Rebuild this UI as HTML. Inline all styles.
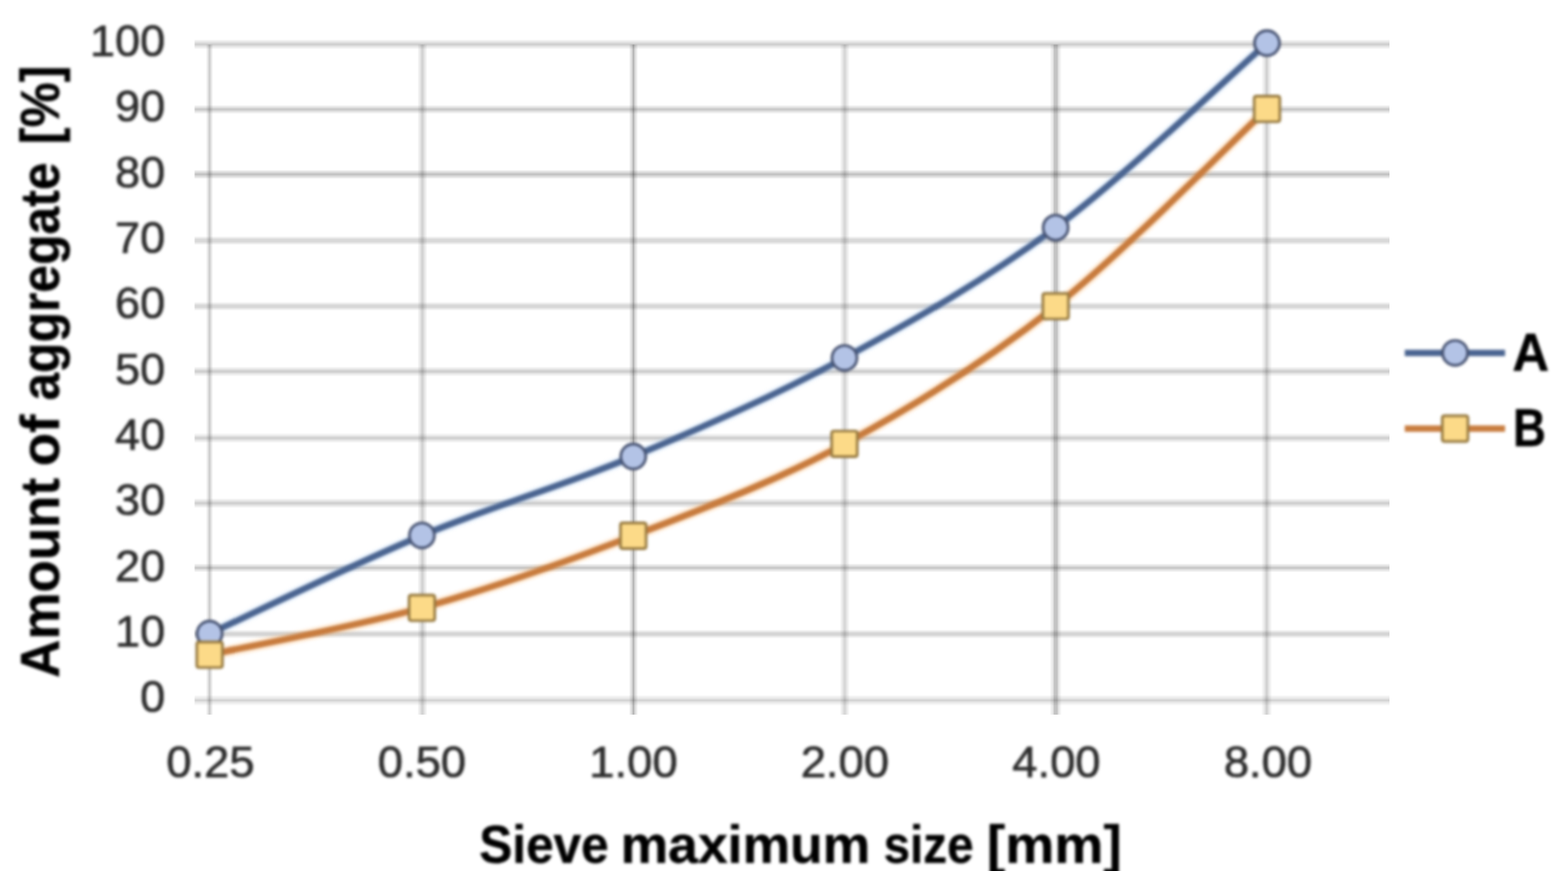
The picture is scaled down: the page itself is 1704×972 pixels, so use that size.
<!DOCTYPE html>
<html lang="en">
<head>
<meta charset="utf-8">
<title>Sieve curve chart</title>
<style>
html,body{margin:0;padding:0;background:#fff;}
body{width:1704px;height:972px;overflow:hidden;}
svg{display:block;}
.bl{filter:blur(1.45px);}
.bg{filter:blur(0.6px);}
.bm{filter:blur(1.5px);}
text{font-family:"Liberation Sans",sans-serif;}
.tick{font-size:49px;fill:#2c2c2c;stroke:#2c2c2c;stroke-width:0.7px;}
.ttl{font-size:56.5px;font-weight:bold;fill:#000000;stroke:#000000;stroke-width:0.4px;}
.ty{font-size:59.5px;}
</style>
</head>
<body>
<svg width="1704" height="972" viewBox="0 0 1704 972">
<rect x="0" y="0" width="1704" height="972" fill="#ffffff"/>
<defs><clipPath id="crop"><rect x="0" y="0" width="1704" height="947"/></clipPath></defs>
<g clip-path="url(#crop)">
<defs><linearGradient id="g0" x1="0" y1="0" x2="0" y2="1"><stop offset="0.0000" stop-color="#000" stop-opacity="0.0000"/><stop offset="0.3083" stop-color="#000" stop-opacity="0.0875"/><stop offset="0.5000" stop-color="#000" stop-opacity="0.1751"/><stop offset="0.6917" stop-color="#000" stop-opacity="0.0875"/><stop offset="1.0000" stop-color="#000" stop-opacity="0.0000"/></linearGradient>
<linearGradient id="g1" x1="0" y1="0" x2="0" y2="1"><stop offset="0.0000" stop-color="#000" stop-opacity="0.0000"/><stop offset="0.2200" stop-color="#000" stop-opacity="0.0821"/><stop offset="0.4000" stop-color="#000" stop-opacity="0.1641"/><stop offset="0.6000" stop-color="#000" stop-opacity="0.1641"/><stop offset="0.7800" stop-color="#000" stop-opacity="0.0821"/><stop offset="1.0000" stop-color="#000" stop-opacity="0.0000"/></linearGradient>
<linearGradient id="g2" x1="0" y1="0" x2="0" y2="1"><stop offset="0.0000" stop-color="#000" stop-opacity="0.0000"/><stop offset="0.2750" stop-color="#000" stop-opacity="0.1149"/><stop offset="0.5000" stop-color="#000" stop-opacity="0.2298"/><stop offset="0.7250" stop-color="#000" stop-opacity="0.1149"/><stop offset="1.0000" stop-color="#000" stop-opacity="0.0000"/></linearGradient>
<linearGradient id="g3" x1="0" y1="0" x2="0" y2="1"><stop offset="0.0000" stop-color="#000" stop-opacity="0.0000"/><stop offset="0.2727" stop-color="#000" stop-opacity="0.1003"/><stop offset="0.5000" stop-color="#000" stop-opacity="0.2006"/><stop offset="0.7273" stop-color="#000" stop-opacity="0.1003"/><stop offset="1.0000" stop-color="#000" stop-opacity="0.0000"/></linearGradient>
<linearGradient id="g4" x1="0" y1="0" x2="0" y2="1"><stop offset="0.0000" stop-color="#000" stop-opacity="0.0000"/><stop offset="0.2636" stop-color="#000" stop-opacity="0.0894"/><stop offset="0.4455" stop-color="#000" stop-opacity="0.1787"/><stop offset="0.5545" stop-color="#000" stop-opacity="0.1787"/><stop offset="0.7364" stop-color="#000" stop-opacity="0.0894"/><stop offset="1.0000" stop-color="#000" stop-opacity="0.0000"/></linearGradient>
<linearGradient id="g5" x1="0" y1="0" x2="0" y2="1"><stop offset="0.0000" stop-color="#000" stop-opacity="0.0000"/><stop offset="0.2636" stop-color="#000" stop-opacity="0.0930"/><stop offset="0.4455" stop-color="#000" stop-opacity="0.1860"/><stop offset="0.5545" stop-color="#000" stop-opacity="0.1860"/><stop offset="0.7364" stop-color="#000" stop-opacity="0.0930"/><stop offset="1.0000" stop-color="#000" stop-opacity="0.0000"/></linearGradient>
<linearGradient id="g6" x1="0" y1="0" x2="0" y2="1"><stop offset="0.0000" stop-color="#000" stop-opacity="0.0000"/><stop offset="0.2071" stop-color="#000" stop-opacity="0.0784"/><stop offset="0.3889" stop-color="#000" stop-opacity="0.1568"/><stop offset="0.6111" stop-color="#000" stop-opacity="0.1568"/><stop offset="0.7929" stop-color="#000" stop-opacity="0.0784"/><stop offset="1.0000" stop-color="#000" stop-opacity="0.0000"/></linearGradient>
<linearGradient id="g7" x1="0" y1="0" x2="0" y2="1"><stop offset="0.0000" stop-color="#000" stop-opacity="0.0000"/><stop offset="0.1919" stop-color="#000" stop-opacity="0.0748"/><stop offset="0.3737" stop-color="#000" stop-opacity="0.1495"/><stop offset="0.6263" stop-color="#000" stop-opacity="0.1495"/><stop offset="0.8081" stop-color="#000" stop-opacity="0.0748"/><stop offset="1.0000" stop-color="#000" stop-opacity="0.0000"/></linearGradient>
<linearGradient id="g8" x1="0" y1="0" x2="0" y2="1"><stop offset="0.0000" stop-color="#000" stop-opacity="0.0000"/><stop offset="0.2500" stop-color="#000" stop-opacity="0.1222"/><stop offset="0.5000" stop-color="#000" stop-opacity="0.2444"/><stop offset="0.7500" stop-color="#000" stop-opacity="0.1222"/><stop offset="1.0000" stop-color="#000" stop-opacity="0.0000"/></linearGradient>
<linearGradient id="g9" x1="0" y1="0" x2="0" y2="1"><stop offset="0.0000" stop-color="#000" stop-opacity="0.0000"/><stop offset="0.2750" stop-color="#000" stop-opacity="0.1149"/><stop offset="0.5000" stop-color="#000" stop-opacity="0.2298"/><stop offset="0.7250" stop-color="#000" stop-opacity="0.1149"/><stop offset="1.0000" stop-color="#000" stop-opacity="0.0000"/></linearGradient>
<linearGradient id="g10" x1="0" y1="0" x2="0" y2="1"><stop offset="0.0000" stop-color="#000" stop-opacity="0.0000"/><stop offset="0.2727" stop-color="#000" stop-opacity="0.1003"/><stop offset="0.5000" stop-color="#000" stop-opacity="0.2006"/><stop offset="0.7273" stop-color="#000" stop-opacity="0.1003"/><stop offset="1.0000" stop-color="#000" stop-opacity="0.0000"/></linearGradient>
<linearGradient id="g11" x1="0" y1="0" x2="1" y2="0"><stop offset="0.0000" stop-color="#000" stop-opacity="0.0000"/><stop offset="0.2938" stop-color="#000" stop-opacity="0.1058"/><stop offset="0.5000" stop-color="#000" stop-opacity="0.2115"/><stop offset="0.7063" stop-color="#000" stop-opacity="0.1058"/><stop offset="1.0000" stop-color="#000" stop-opacity="0.0000"/></linearGradient>
<linearGradient id="g12" x1="0" y1="0" x2="1" y2="0"><stop offset="0.0000" stop-color="#000" stop-opacity="0.0000"/><stop offset="0.2545" stop-color="#000" stop-opacity="0.0857"/><stop offset="0.4455" stop-color="#000" stop-opacity="0.1714"/><stop offset="0.5545" stop-color="#000" stop-opacity="0.1714"/><stop offset="0.7455" stop-color="#000" stop-opacity="0.0857"/><stop offset="1.0000" stop-color="#000" stop-opacity="0.0000"/></linearGradient>
<linearGradient id="g13" x1="0" y1="0" x2="1" y2="0"><stop offset="0.0000" stop-color="#000" stop-opacity="0.0000"/><stop offset="0.3450" stop-color="#000" stop-opacity="0.1550"/><stop offset="0.5000" stop-color="#000" stop-opacity="0.3100"/><stop offset="0.6550" stop-color="#000" stop-opacity="0.1550"/><stop offset="1.0000" stop-color="#000" stop-opacity="0.0000"/></linearGradient>
<linearGradient id="g14" x1="0" y1="0" x2="1" y2="0"><stop offset="0.0000" stop-color="#000" stop-opacity="0.0000"/><stop offset="0.2727" stop-color="#000" stop-opacity="0.0857"/><stop offset="0.5000" stop-color="#000" stop-opacity="0.1714"/><stop offset="0.7273" stop-color="#000" stop-opacity="0.0857"/><stop offset="1.0000" stop-color="#000" stop-opacity="0.0000"/></linearGradient>
<linearGradient id="g15" x1="0" y1="0" x2="1" y2="0"><stop offset="0.0000" stop-color="#000" stop-opacity="0.0000"/><stop offset="0.2923" stop-color="#000" stop-opacity="0.1185"/><stop offset="0.3731" stop-color="#000" stop-opacity="0.2371"/><stop offset="0.6269" stop-color="#000" stop-opacity="0.2371"/><stop offset="0.7077" stop-color="#000" stop-opacity="0.1185"/><stop offset="1.0000" stop-color="#000" stop-opacity="0.0000"/></linearGradient>
<linearGradient id="g16" x1="0" y1="0" x2="1" y2="0"><stop offset="0.0000" stop-color="#000" stop-opacity="0.0000"/><stop offset="0.2826" stop-color="#000" stop-opacity="0.0894"/><stop offset="0.4652" stop-color="#000" stop-opacity="0.1787"/><stop offset="0.5348" stop-color="#000" stop-opacity="0.1787"/><stop offset="0.7174" stop-color="#000" stop-opacity="0.0894"/><stop offset="1.0000" stop-color="#000" stop-opacity="0.0000"/></linearGradient></defs>
<g class="bg">
<rect x="211.5" y="755.40" width="1298.5" height="12.00" fill="url(#g0)"/>
<rect x="211.5" y="684.30" width="1298.5" height="10.00" fill="url(#g1)"/>
<rect x="211.5" y="612.40" width="1298.5" height="10.00" fill="url(#g2)"/>
<rect x="211.5" y="541.60" width="1298.5" height="11.00" fill="url(#g3)"/>
<rect x="211.5" y="470.80" width="1298.5" height="11.00" fill="url(#g4)"/>
<rect x="211.5" y="398.30" width="1298.5" height="11.00" fill="url(#g5)"/>
<rect x="211.5" y="328.05" width="1298.5" height="9.90" fill="url(#g6)"/>
<rect x="211.5" y="256.60" width="1298.5" height="9.90" fill="url(#g7)"/>
<rect x="211.5" y="184.35" width="1298.5" height="10.40" fill="url(#g8)"/>
<rect x="211.5" y="113.95" width="1298.5" height="10.00" fill="url(#g9)"/>
<rect x="211.5" y="42.66" width="1298.5" height="11.00" fill="url(#g10)"/>
<rect x="223.75" y="48.5" width="8.00" height="728.5" fill="url(#g11)"/>
<rect x="453.50" y="48.5" width="11.00" height="728.5" fill="url(#g12)"/>
<rect x="683.35" y="48.5" width="10.00" height="728.5" fill="url(#g13)"/>
<rect x="912.50" y="48.5" width="11.00" height="728.5" fill="url(#g14)"/>
<rect x="1140.80" y="48.5" width="13.00" height="728.5" fill="url(#g15)"/>
<rect x="1370.80" y="48.5" width="11.50" height="728.5" fill="url(#g16)"/>
</g>
<g class="bm">
<path d="M227.80 688.90 C266.25 671.12 381.77 614.30 458.50 582.20 C535.23 550.10 611.67 528.47 688.20 496.30 C764.73 464.13 841.20 430.67 917.70 389.20 C994.20 347.73 1070.67 304.57 1147.20 247.50 C1223.73 190.43 1338.62 80.25 1376.90 46.80" fill="none" stroke="#9ec8f4" stroke-opacity="0.20" stroke-width="13" stroke-linecap="round" stroke-linejoin="round"/>
<path d="M227.80 711.90 C266.25 703.40 381.77 682.47 458.50 660.90 C535.23 639.33 611.67 612.22 688.20 582.50 C764.73 552.78 841.20 524.20 917.70 482.60 C994.20 441.00 1070.67 393.60 1147.20 332.90 C1223.73 272.20 1338.62 154.15 1376.90 118.40" fill="none" stroke="#ffb060" stroke-opacity="0.22" stroke-width="13.5" stroke-linecap="round" stroke-linejoin="round"/>
<path d="M227.80 688.90 C266.25 671.12 381.77 614.30 458.50 582.20 C535.23 550.10 611.67 528.47 688.20 496.30 C764.73 464.13 841.20 430.67 917.70 389.20 C994.20 347.73 1070.67 304.57 1147.20 247.50 C1223.73 190.43 1338.62 80.25 1376.90 46.80" fill="none" stroke="#4b6591" stroke-width="6.9" stroke-linecap="round" stroke-linejoin="round"/>
<circle cx="227.80" cy="688.90" r="13.6" fill="#b3c3e6" stroke="#455170" stroke-width="2.9"/>
<circle cx="458.50" cy="582.20" r="13.6" fill="#b3c3e6" stroke="#455170" stroke-width="2.9"/>
<circle cx="688.20" cy="496.30" r="13.6" fill="#b3c3e6" stroke="#455170" stroke-width="2.9"/>
<circle cx="917.70" cy="389.20" r="13.6" fill="#b3c3e6" stroke="#455170" stroke-width="2.9"/>
<circle cx="1147.20" cy="247.50" r="13.6" fill="#b3c3e6" stroke="#455170" stroke-width="2.9"/>
<circle cx="1376.90" cy="46.80" r="13.6" fill="#b3c3e6" stroke="#455170" stroke-width="2.9"/>
<path d="M227.80 711.90 C266.25 703.40 381.77 682.47 458.50 660.90 C535.23 639.33 611.67 612.22 688.20 582.50 C764.73 552.78 841.20 524.20 917.70 482.60 C994.20 441.00 1070.67 393.60 1147.20 332.90 C1223.73 272.20 1338.62 154.15 1376.90 118.40" fill="none" stroke="#c87c3e" stroke-width="7.2" stroke-linecap="round" stroke-linejoin="round"/>
<rect x="213.85" y="697.95" width="27.9" height="27.9" rx="2.5" ry="2.5" fill="#fcda88" stroke="#977a40" stroke-width="2.9"/>
<rect x="444.55" y="646.95" width="27.9" height="27.9" rx="2.5" ry="2.5" fill="#fcda88" stroke="#977a40" stroke-width="2.9"/>
<rect x="674.25" y="568.55" width="27.9" height="27.9" rx="2.5" ry="2.5" fill="#fcda88" stroke="#977a40" stroke-width="2.9"/>
<rect x="903.75" y="468.65" width="27.9" height="27.9" rx="2.5" ry="2.5" fill="#fcda88" stroke="#977a40" stroke-width="2.9"/>
<rect x="1133.25" y="318.95" width="27.9" height="27.9" rx="2.5" ry="2.5" fill="#fcda88" stroke="#977a40" stroke-width="2.9"/>
<rect x="1362.95" y="104.45" width="27.9" height="27.9" rx="2.5" ry="2.5" fill="#fcda88" stroke="#977a40" stroke-width="2.9"/>
</g>
<g class="bl">
<g class="tick" text-anchor="end">
<text x="179.4" y="61.10">100</text>
<text x="179.4" y="132.42">90</text>
<text x="179.4" y="203.74">80</text>
<text x="179.4" y="275.06">70</text>
<text x="179.4" y="346.38">60</text>
<text x="179.4" y="417.70">50</text>
<text x="179.4" y="489.02">40</text>
<text x="179.4" y="560.34">30</text>
<text x="179.4" y="631.66">20</text>
<text x="179.4" y="702.98">10</text>
<text x="179.4" y="774.30">0</text>
</g>
<g class="tick" text-anchor="middle">
<text x="228.65" y="845.0" textLength="96.0" lengthAdjust="spacingAndGlyphs">0.25</text>
<text x="458.50" y="845.0" textLength="96.0" lengthAdjust="spacingAndGlyphs">0.50</text>
<text x="688.35" y="845.0" textLength="96.0" lengthAdjust="spacingAndGlyphs">1.00</text>
<text x="918.20" y="845.0" textLength="96.0" lengthAdjust="spacingAndGlyphs">2.00</text>
<text x="1148.05" y="845.0" textLength="96.0" lengthAdjust="spacingAndGlyphs">4.00</text>
<text x="1377.90" y="845.0" textLength="96.0" lengthAdjust="spacingAndGlyphs">8.00</text>
</g>
<text class="ttl" y="937.5"><tspan x="520.7" textLength="140.9" lengthAdjust="spacingAndGlyphs">Sieve</tspan> <tspan x="674.4" textLength="271.4" lengthAdjust="spacingAndGlyphs">maximum</tspan> <tspan x="960.2" textLength="97.8" lengthAdjust="spacingAndGlyphs">size</tspan> <tspan x="1072.6" textLength="146.5" lengthAdjust="spacingAndGlyphs">[mm]</tspan></text>
<text class="ttl ty" y="0" transform="translate(64.0,0) rotate(-90)"><tspan x="-736.9" textLength="217.2" lengthAdjust="spacingAndGlyphs">Amount</tspan> <tspan x="-507.1" textLength="56.2" lengthAdjust="spacingAndGlyphs">of</tspan> <tspan x="-435.5" textLength="258.8" lengthAdjust="spacingAndGlyphs">aggregate</tspan> <tspan x="-156.9" textLength="85.8" lengthAdjust="spacingAndGlyphs">[%]</tspan></text>
</g>
<g class="bm">
<line x1="1526.6" y1="383.7" x2="1635.6" y2="383.7" stroke="#4b6591" stroke-width="6.9"/>
<circle cx="1581.3" cy="383.7" r="13.6" fill="#b3c3e6" stroke="#455170" stroke-width="2.9"/>
<line x1="1526.6" y1="466.0" x2="1635.6" y2="466.0" stroke="#c87c3e" stroke-width="7.2"/>
<rect x="1567.35" y="452.05" width="27.9" height="27.9" rx="2.5" ry="2.5" fill="#fcda88" stroke="#977a40" stroke-width="2.9"/>
</g>
<g class="ttl bl">
<text x="1643.6" y="403.0" textLength="40.0" lengthAdjust="spacingAndGlyphs">A</text>
<text x="1644.3" y="485.0" textLength="35.8" lengthAdjust="spacingAndGlyphs">B</text>
</g>
</g>
</svg>
</body>
</html>
